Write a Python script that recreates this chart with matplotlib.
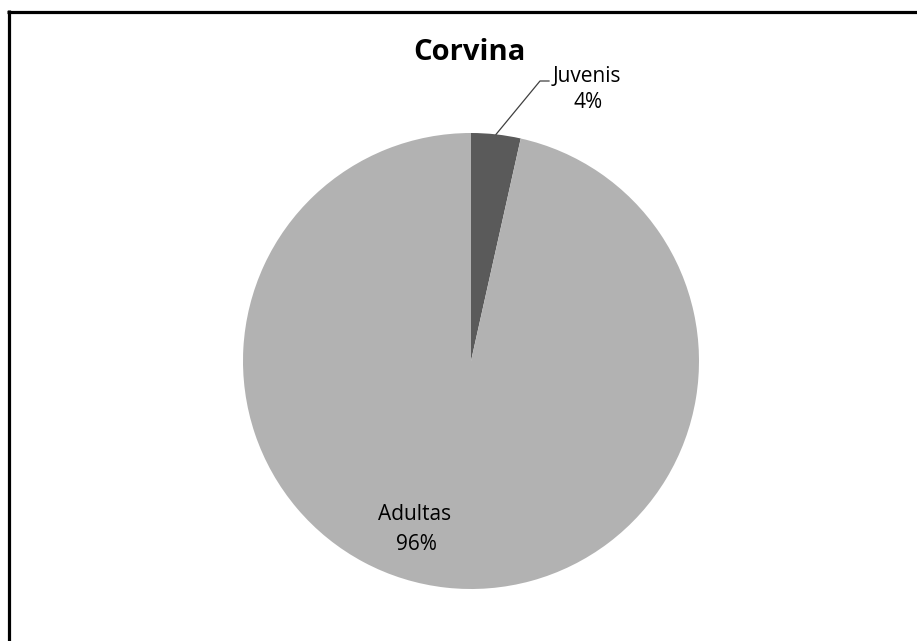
import numpy as np
import matplotlib.pyplot as plt
from matplotlib.lines import Line2D

# Corvina - juvenis vs adultas
labels = ["Juvenis", "Adultas"]
values = [3.5, 96.5]
pct_labels = ["4%", "96%"]
colors = ["#5a5a5a", "#b2b2b2"]
title = "Corvina"

W, H = 917, 641
fig = plt.figure(figsize=(W / 100, H / 100), dpi=100)
fig.patch.set_facecolor("white")

# pie centre (471, 361) px, radius ~228 px
cx, cy, r = 471, 361, 228
ax = fig.add_axes([(cx - r) / W, (H - cy - r) / H, 2 * r / W, 2 * r / H])
wedges, _ = ax.pie(values, colors=colors, startangle=90, counterclock=False,
                   radius=1.0, wedgeprops=dict(linewidth=0))
ax.set_xlim(-1, 1)
ax.set_ylim(-1, 1)
ax.set_aspect("equal")
ax.axis("off")

font = ["Open Sans", "DejaVu Sans"]

def px(x, y):
    # pixel position -> pie data coords
    return (x - cx) / r, (cy - y) / r

def label(x, y, s):
    tx, ty = px(x, y)
    ax.text(tx, ty, s, ha="center", va="baseline", fontsize=15,
            family=font, clip_on=False)

# Juvenis: label outside with leader line
w = wedges[0]
mid = np.deg2rad((w.theta1 + w.theta2) / 2)
p0 = (np.cos(mid), np.sin(mid))
e1 = px(540, 81)
e2 = px(549, 81)
ax.plot([p0[0], e1[0], e2[0]], [p0[1], e1[1], e2[1]], color="#404040",
        lw=0.9, clip_on=False)
label(587, 82, labels[0])
label(588, 108, pct_labels[0])

# Adultas: label inside slice
label(415, 520, labels[1])
label(416, 550, pct_labels[1])

fig.text(469 / W, 1 - 52 / H, title, ha="center", va="center",
         fontsize=21, fontweight="bold", family=font)

# chart frame (only top and left visible in the crop)
fig.add_artist(Line2D([7 / W, 1], [1 - 11.5 / H, 1 - 11.5 / H],
                      transform=fig.transFigure, color="black", lw=2.3,
                      solid_capstyle="butt"))
fig.add_artist(Line2D([8.5 / W, 8.5 / W], [1 - 10 / H, 0],
                      transform=fig.transFigure, color="black", lw=2.3,
                      solid_capstyle="butt"))

fig.savefig("out.png", dpi=100, facecolor="white")
